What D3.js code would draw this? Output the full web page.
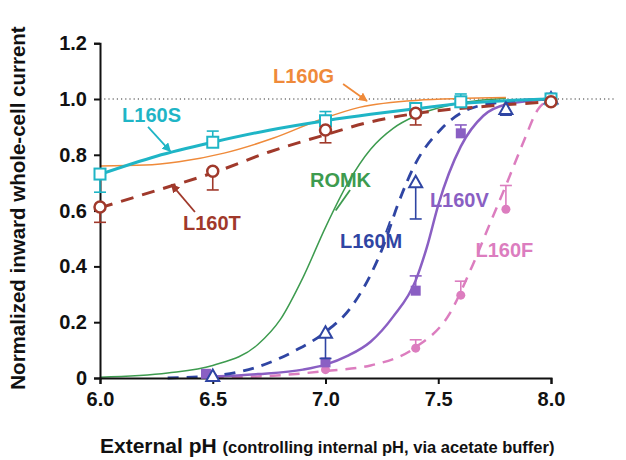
<!DOCTYPE html>
<html>
<head>
<meta charset="utf-8">
<script src="https://cdn.jsdelivr.net/npm/d3@7"></script>
<style>
    body { margin: 0; background: #fff; }
    text { font-family: "Liberation Sans", Arial, sans-serif; font-weight: bold; }
</style>
</head>
<body>
<svg id="chart" width="626" height="460"></svg>
<script>
// axis ticks
var xTicks = [6.0, 6.5, 7.0, 7.5, 8.0];
var yTicks = [0, 0.2, 0.4, 0.6, 0.8, 1.0, 1.2];

// measured points (pH, normalized current, one-sided error: + up / - down)
var phS = [6.0, 6.5, 7.0, 7.4, 7.6, 8.0];
var valS = [0.731, 0.845, 0.922, 0.966, 0.99, 1.0];
var errS = [-0.065, 0.04, 0.033, 0.02, 0.028, 0];

var phT = [6.0, 6.5, 7.0, 7.4, 8.0];
var valT = [0.613, 0.741, 0.889, 0.949, 0.99];
var errT = [-0.055, -0.067, -0.046, -0.042, 0];

var phM = [6.5, 7.0, 7.4, 7.8, 8.0];
var valM = [0.005, 0.16, 0.70, 0.962, 1.0];
var errM = [0, -0.09, -0.13, -0.02, 0];

var phV = [6.47, 7.0, 7.4, 7.6, 8.0];
var valV = [0.015, 0.056, 0.313, 0.877, 1.005];
var errV = [0, 0, 0.053, 0.03, 0.01];

var phF = [6.5, 7.0, 7.4, 7.6, 7.8];
var valF = [0.005, 0.03, 0.107, 0.297, 0.605];
var errF = [0, 0, 0.03, 0.05, 0.085];

// fitted curves
var fitS = [[6.0, 0.73], [6.25, 0.795], [6.5, 0.845], [6.75, 0.888], [7.0, 0.922], [7.2, 0.945], [7.4, 0.965], [7.6, 0.984], [8.0, 1.0]];
var fitT = [[6.0, 0.61], [6.25, 0.672], [6.5, 0.735], [6.75, 0.81], [7.0, 0.872], [7.2, 0.918], [7.4, 0.948], [7.7, 0.973], [8.0, 0.99]];
var fitG = [[6.0, 0.76], [6.2, 0.763], [6.35, 0.775], [6.55, 0.806], [6.77, 0.86], [6.99, 0.93], [7.15, 0.97], [7.4, 0.995], [7.8, 1.005]];
var fitR = [[6.0, 0.003], [6.3, 0.018], [6.5, 0.045], [6.7, 0.12], [6.8, 0.21], [6.9, 0.36], [7.0, 0.54], [7.1, 0.70], [7.2, 0.82], [7.3, 0.895], [7.4, 0.94], [7.55, 0.978], [7.8, 1.003]];
var fitM = [[6.3, 0.0], [6.5, 0.008], [6.7, 0.04], [6.87, 0.10], [7.0, 0.165], [7.11, 0.25], [7.2, 0.37], [7.26, 0.48], [7.32, 0.62], [7.4, 0.77], [7.51, 0.89], [7.64, 0.965], [7.8, 0.99], [8.0, 1.0]];
var fitV = [[6.5, 0.005], [6.7, 0.014], [6.9, 0.03], [7.0, 0.048], [7.1, 0.08], [7.2, 0.13], [7.3, 0.22], [7.4, 0.35], [7.45, 0.47], [7.5, 0.62], [7.6, 0.83], [7.7, 0.94], [7.8, 0.98], [8.0, 1.0]];
var fitF = [[6.5, 0.0], [6.8, 0.01], [7.0, 0.025], [7.2, 0.045], [7.4, 0.11], [7.55, 0.23], [7.65, 0.40], [7.73, 0.555], [7.8, 0.69], [7.88, 0.85], [7.94, 0.96], [8.0, 1.0]];

var svg = d3.select("#chart");
var x = d3.scaleLinear().domain([6, 8]).range([100, 551]);
var y = d3.scaleLinear().domain([0, 1.2]).range([378, 43.2]);

// arrow heads
var defs = svg.append("defs");
function arrowId(color) {
    var id = "arr" + color.replace("#", "");
    if (defs.select("#" + id).empty()) {
        defs.append("marker")
            .attr("id", id)
            .attr("viewBox", "0 0 10 10")
            .attr("refX", 9).attr("refY", 5)
            .attr("markerWidth", 9).attr("markerHeight", 9)
            .attr("markerUnits", "userSpaceOnUse")
            .attr("orient", "auto")
            .append("path").attr("d", "M0,0 L10,5 L0,10 z").attr("fill", color);
    }
    return "url(#" + id + ")";
}

// dotted reference at 1.0
svg.append("line")
    .attr("x1", x(6)).attr("x2", 616)
    .attr("y1", y(1)).attr("y2", y(1))
    .attr("stroke", "#333").attr("stroke-width", 1.2)
    .attr("stroke-dasharray", "1.2,3");

var series = [
    {name: "ROMK", color: "#3d9b4f", w: 1.5, dash: null, fit: fitR},
    {name: "L160G", color: "#ef8a3a", w: 1.5, dash: null, fit: fitG},
    {name: "L160F", color: "#dc7dbf", w: 2.5, dash: "11,8", fit: fitF, ph: phF, val: valF, err: errF, mk: "fcircle"},
    {name: "L160V", color: "#8a5fc3", w: 2.5, dash: null, fit: fitV, ph: phV, val: valV, err: errV, mk: "fsquare"},
    {name: "L160M", color: "#2f45a3", w: 2.8, dash: "11,8", fit: fitM, ph: phM, val: valM, err: errM, mk: "triangle"},
    {name: "L160S", color: "#1fb5c6", w: 3, dash: null, fit: fitS, ph: phS, val: valS, err: errS, mk: "osquare"},
    {name: "L160T", color: "#a0392b", w: 3, dash: "13,9", fit: fitT, ph: phT, val: valT, err: errT, mk: "ocircle"}
];

var line = d3.line()
    .x(function (d) { return x(d[0]); })
    .y(function (d) { return y(d[1]); })
    .curve(d3.curveMonotoneX);

series.forEach(function (s) {
    svg.append("path")
        .attr("d", line(s.fit))
        .attr("fill", "none")
        .attr("stroke", s.color)
        .attr("stroke-width", s.w)
        .attr("stroke-dasharray", s.dash);
});

// axes
var yAxis = d3.axisLeft(y).tickValues(yTicks).tickSize(6).tickPadding(7)
    .tickFormat(function (d) { return d === 0 ? "0" : d.toFixed(1); });
var xAxis = d3.axisBottom(x).tickValues(xTicks).tickSize(6).tickPadding(8)
    .tickFormat(d3.format(".1f"));

var gy = svg.append("g").attr("transform", "translate(" + x(6) + ",0)").call(yAxis);
var gx = svg.append("g").attr("transform", "translate(0," + y(0) + ")").call(xAxis);
[gx, gy].forEach(function (g) {
    g.selectAll("path, line").attr("stroke", "#111").attr("stroke-width", 2);
    g.selectAll("text").attr("fill", "#111").style("font-size", "20px").style("font-weight", "bold")
        .style("font-family", "Liberation Sans, Arial, sans-serif");
});

// error bars + markers
series.forEach(function (s) {
    if (!s.ph) return;
    var g = svg.append("g");
    s.ph.forEach(function (p, i) {
        var e = s.err[i];
        if (e !== 0) {
            g.append("line")
                .attr("x1", x(p)).attr("x2", x(p))
                .attr("y1", y(s.val[i])).attr("y2", y(s.val[i] + e))
                .attr("stroke", s.color).attr("stroke-width", 1.6);
            g.append("line")
                .attr("x1", x(p) - 6).attr("x2", x(p) + 6)
                .attr("y1", y(s.val[i] + e)).attr("y2", y(s.val[i] + e))
                .attr("stroke", s.color).attr("stroke-width", 1.6);
        }
        var cx = x(p), cy = y(s.val[i]);
        if (s.mk === "osquare") {
            g.append("rect").attr("x", cx - 5.5).attr("y", cy - 5.5).attr("width", 11).attr("height", 11)
                .attr("fill", "#fff").attr("stroke", s.color).attr("stroke-width", 2);
        } else if (s.mk === "fsquare") {
            g.append("rect").attr("x", cx - 5).attr("y", cy - 5).attr("width", 10).attr("height", 10)
                .attr("fill", s.color);
        } else if (s.mk === "ocircle") {
            g.append("circle").attr("cx", cx).attr("cy", cy).attr("r", 5.5)
                .attr("fill", "#fff").attr("stroke", s.color).attr("stroke-width", 2.5);
        } else if (s.mk === "fcircle") {
            g.append("circle").attr("cx", cx).attr("cy", cy).attr("r", 4.5).attr("fill", s.color);
        } else if (s.mk === "triangle") {
            g.append("path")
                .attr("d", "M" + cx + "," + (cy - 7) + " L" + (cx + 6.5) + "," + (cy + 4.5) + " L" + (cx - 6.5) + "," + (cy + 4.5) + " Z")
                .attr("fill", "#fff").attr("stroke", s.color).attr("stroke-width", 2);
        }
    });
});

// curve labels and leaders (data coordinates)
var labels = [
    {t: "L160G", c: "#ef8a3a", p: [6.767, 1.057]},
    {t: "L160S", c: "#1fb5c6", p: [6.098, 0.918]},
    {t: "L160T", c: "#a0392b", p: [6.368, 0.530]},
    {t: "ROMK", c: "#3d9b4f", p: [6.931, 0.685]},
    {t: "L160M", c: "#2f45a3", p: [7.064, 0.466]},
    {t: "L160V", c: "#8a5fc3", p: [7.463, 0.613]},
    {t: "L160F", c: "#dc7dbf", p: [7.665, 0.434]}
];
var leaders = [
    {c: "#ef8a3a", a: [7.078, 1.054], b: [7.184, 0.993], head: true},
    {c: "#1fb5c6", a: [6.213, 0.900], b: [6.312, 0.812], head: true},
    {c: "#a0392b", a: [6.421, 0.595], b: [6.317, 0.694], head: true},
    {c: "#3d9b4f", a: [7.109, 0.674], b: [7.045, 0.60], head: false},
    {c: "#2f45a3", a: [7.268, 0.522], b: [7.286, 0.562], head: false}
];

leaders.forEach(function (l) {
    var ln = svg.append("line")
        .attr("x1", x(l.a[0])).attr("y1", y(l.a[1]))
        .attr("x2", x(l.b[0])).attr("y2", y(l.b[1]))
        .attr("stroke", l.c).attr("stroke-width", 1.8);
    if (l.head) ln.attr("marker-end", arrowId(l.c));
});

labels.forEach(function (l) {
    svg.append("text")
        .attr("x", x(l.p[0])).attr("y", y(l.p[1]))
        .attr("fill", l.c)
        .style("font-size", "20px")
        .text(l.t);
});

// axis titles
svg.append("text")
    .attr("transform", "translate(25,208) rotate(-90)")
    .attr("text-anchor", "middle")
    .attr("fill", "#111")
    .style("font-size", "20.5px")
    .text("Normalized inward whole-cell current");

var xt = svg.append("text")
    .attr("x", 100).attr("y", 453)
    .attr("fill", "#111");
xt.append("tspan").style("font-size", "21px").text("External pH ");
xt.append("tspan").style("font-size", "16.5px").text("(controlling internal pH, via acetate buffer)");
</script>
</body>
</html>
